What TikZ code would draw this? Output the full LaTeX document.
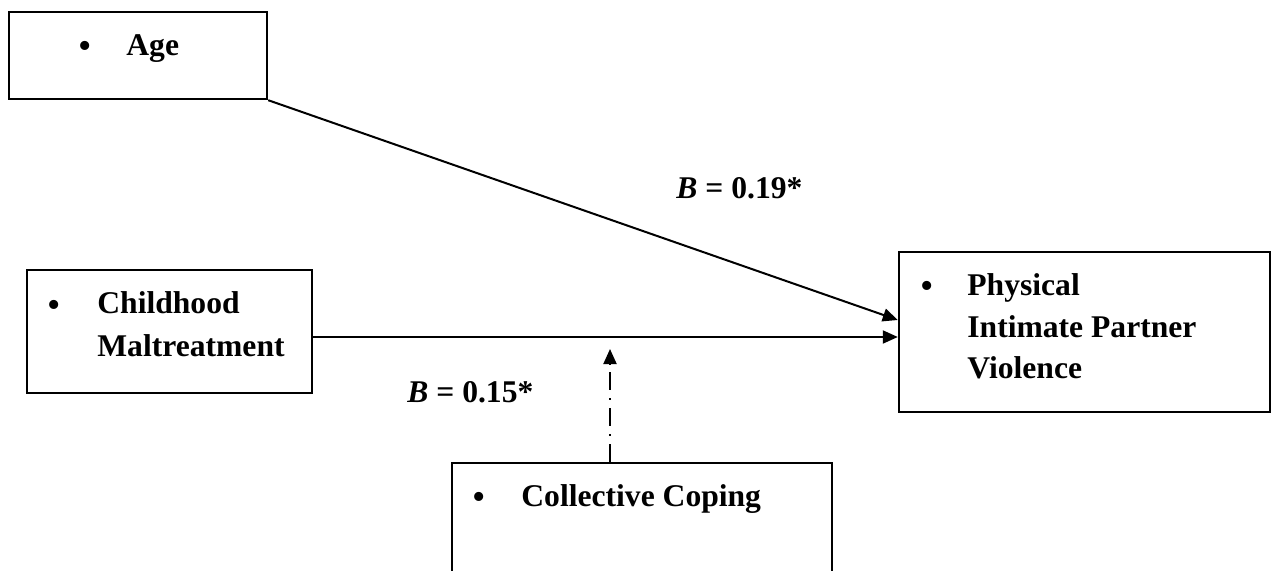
\documentclass[tikz,border=0pt]{standalone}
\usepackage{fontspec}
\setmainfont{Liberation Serif}
\usetikzlibrary{positioning}
\usetikzlibrary{arrows.meta}
\tikzset{
        var_font/.style={font=\fontsize{15.8}{20.5}\selectfont\bfseries},
        % Variable boxes
        var_box/.style={rectangle, draw=black, line width=1.2pt, inner sep=0pt},
        % Text inside the boxes (anchored on the last line)
        var_text/.style={var_font, inner sep=0pt, anchor=base west, align=left},
        % Bullets
        var_bullet/.style={font=\fontsize{19}{20}\selectfont, inner sep=0pt, anchor=base, yshift=-1.5pt},
        % Coefficients
        coef/.style={var_font, inner sep=0pt, anchor=base west},
        % Paths
        path_arrow/.style={-{Triangle[length=7.5pt,width=6.5pt]}, line width=1pt}
}
\begin{document}
\begin{tikzpicture}[x=0.5pt, y=-0.5pt]
            \useasboundingbox (0,0) rectangle (1272,571);
            \clip (0,0) rectangle (1272,571);
            \node[var_box, minimum width=129pt, minimum height=43.5pt] (age) at (138,55.5) {};
            \node[var_box, minimum width=142.5pt, minimum height=61.5pt] (cm) at (169.5,331.5) {};
            \node[var_box, minimum width=185.5pt, minimum height=80pt] (ipv) at (1084.5,332) {};
            \node[var_box, minimum width=190pt, minimum height=68.5pt] (coping) at (642,531.5) {};

            \node[var_bullet] (age_b) at (85,56) {\textbullet};
            \node[var_text] (age_t) at (126,56) {Age};
            \node[var_bullet] (cm_b) at (54,314) {\textbullet};
            \node[var_text, font=\fontsize{15.8}{21.5}\selectfont\bfseries] (cm_t) at (97,357) {Childhood\\Maltreatment};
            \node[var_bullet] (ipv_b) at (927,296) {\textbullet};
            \node[var_text] (ipv_t) at (967,378) {Physical\\Intimate Partner\\Violence};
            \node[var_bullet] (coping_b) at (479,506) {\textbullet};
            \node[var_text] (coping_t) at (521,506) {Collective Coping};

            \coordinate (cm_out) at ([yshift=-2.75pt]cm.east);
            \coordinate (mod_in) at ([xshift=-16pt]coping.north);
            \coordinate (mod_tip) at (610,349);

            \draw[path_arrow] (age.south east) -- ([yshift=6pt]ipv.west);
            \draw[path_arrow] (cm_out) -- (cm_out -| ipv.west);
            \draw[path_arrow, dash pattern=on 9pt off 4pt on 1pt off 4pt] (mod_in) -- (mod_tip);

            \node[coef] (b_age) at (676,199) {\textit{B} = 0.19*};
            \node[coef] (b_cm) at (407,402) {\textit{B} = 0.15*};
\end{tikzpicture}
\end{document}
